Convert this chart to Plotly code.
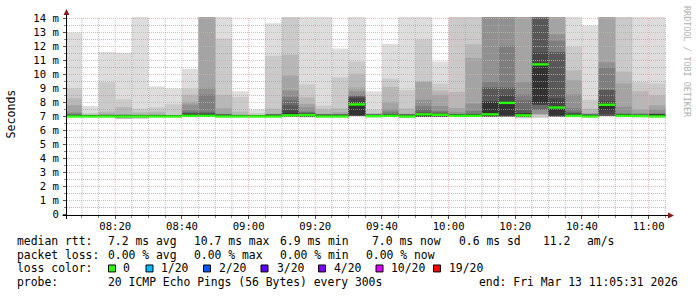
import plotly.graph_objects as go
import pandas as pd

# ---------------- data ----------------
day = "2026-03-13"
bar_start = ["08:05", "08:10", "08:15", "08:20", "08:25", "08:30", "08:35", "08:40", "08:45",
             "08:50", "08:55", "09:00", "09:05", "09:10", "09:15", "09:20", "09:25", "09:30",
             "09:35", "09:40", "09:45", "09:50", "09:55", "10:00", "10:05", "10:10", "10:15",
             "10:20", "10:25", "10:30", "10:35", "10:40", "10:45", "10:50", "10:55", "11:00"]

# sorted ping rtt (ms), upper half p11..p20 for each 5 min step
pings_high = [
    [7.08, 7.1, 7.12, 7.15, 7.2, 7.3, 7.8, 8.3, 9.0, 13.0],
    [7.08, 7.08, 7.08, 7.08, 7.08, 7.1, 7.12, 7.15, 7.25, 7.75],
    [7.1, 7.1, 7.1, 7.1, 7.1, 7.15, 7.2, 7.35, 9.45, 11.6],
    [7.1, 7.1, 7.1, 7.1, 7.1, 7.14, 7.18, 7.67, 8.23, 11.55],
    [7.1, 7.1, 7.1, 7.1, 7.1, 7.1, 7.15, 7.3, 7.55, 14.9],
    [7.1, 7.1, 7.1, 7.1, 7.1, 7.1, 7.2, 7.35, 7.65, 9.15],
    [7.1, 7.1, 7.1, 7.1, 7.1, 7.1, 7.1, 7.12, 7.87, 9.0],
    [7.15, 7.2, 7.25, 7.3, 7.45, 7.85, 8.05, 8.55, 9.0, 10.4],
    [7.15, 7.2, 7.25, 7.33, 8.57, 9.05, 14.9, 14.9, 14.9, 14.9],
    [7.12, 7.12, 7.12, 7.12, 7.12, 7.2, 7.58, 8.55, 12.55, 14.9],
    [7.1, 7.1, 7.1, 7.1, 7.1, 7.1, 7.15, 7.35, 8.4, 8.8],
    [7.1, 7.1, 7.1, 7.1, 7.1, 7.1, 7.1, 7.1, 7.25, 7.5],
    [7.12, 7.12, 7.12, 7.12, 7.12, 7.12, 7.2, 7.56, 11.33, 13.65],
    [7.25, 7.45, 7.8, 8.15, 8.4, 8.85, 9.93, 11.4, 14.9, 14.9],
    [7.15, 7.2, 7.25, 7.3, 7.35, 7.65, 7.9, 8.37, 9.3, 14.9],
    [7.12, 7.12, 7.12, 7.12, 7.12, 7.12, 7.2, 7.5, 7.78, 14.9],
    [7.12, 7.12, 7.12, 7.12, 7.12, 7.12, 7.3, 7.58, 9.8, 11.85],
    [7.92, 8.32, 8.4, 8.48, 8.5, 8.8, 9.06, 10.05, 10.92, 14.9],
    [7.12, 7.12, 7.12, 7.12, 7.12, 7.12, 7.12, 7.25, 7.48, 8.8],
    [7.15, 7.15, 7.15, 7.2, 7.35, 7.5, 8.05, 9.1, 9.7, 12.18],
    [7.12, 7.12, 7.12, 7.12, 7.12, 7.12, 7.2, 7.58, 8.9, 14.9],
    [7.2, 7.25, 7.3, 7.5, 7.75, 8.2, 9.45, 9.5, 12.48, 14.9],
    [7.18, 7.2, 7.25, 7.3, 7.4, 7.75, 8.55, 8.85, 9.35, 10.93],
    [7.15, 7.15, 7.15, 7.15, 7.15, 7.3, 7.6, 8.75, 14.9, 14.9],
    [7.15, 7.15, 7.15, 7.2, 7.4, 7.93, 11.18, 12.16, 14.9, 14.9],
    [8.06, 8.06, 9.05, 9.05, 9.47, 14.9, 14.9, 14.9, 14.9, 14.9],
    [8.06, 8.48, 9.05, 9.05, 12.05, 14.9, 14.9, 14.9, 14.9, 14.9],
    [7.2, 7.25, 7.45, 8.15, 8.57, 9.45, 14.9, 14.9, 14.9, 14.9],
    [10.8, 11.58, 13.99, 14.9, 14.9, 14.9, 14.9, 14.9, 14.9, 14.9],
    [7.75, 8.3, 11.58, 11.58, 12.4, 12.87, 14.9, 14.9, 14.9, 14.9],
    [7.15, 7.2, 7.25, 7.35, 7.6, 8.57, 9.58, 10.3, 11.98, 14.1],
    [7.12, 7.12, 7.12, 7.12, 7.12, 7.12, 7.25, 7.55, 8.2, 13.5],
    [7.94, 8.1, 8.89, 8.89, 10.48, 10.87, 14.9, 14.9, 14.9, 14.9],
    [7.15, 7.15, 7.15, 7.15, 7.25, 7.7, 9.36, 10.2, 14.9, 14.9],
    [7.12, 7.12, 7.12, 7.12, 7.12, 7.25, 7.5, 8.8, 9.45, 14.9],
    [7.15, 7.15, 7.15, 7.15, 7.25, 7.5, 7.8, 8.5, 9.36, 14.9],
]

# lower half p1..p10
_d = [6.95, 7.0, 7.0, 7.0, 7.0, 7.0, 7.0, 7.0, 7.0, 7.0]
pings_low = [
    _d, _d, _d,
    [6.8, 6.82, 6.85, 6.9, 7.0, 7.0, 7.0, 7.0, 7.0, 7.0],
    [6.82, 6.85, 6.9, 7.0, 7.0, 7.0, 7.0, 7.0, 7.0, 7.0],
    _d, _d, _d, _d, _d, _d, _d, _d, _d,
    [6.93, 6.95, 7.0, 7.0, 7.0, 7.0, 7.0, 7.0, 7.0, 7.0],
    _d, _d,
    [7.0, 7.05, 7.05, 7.05, 7.05, 7.05, 7.05, 7.05, 7.08, 7.1],
    _d, _d,
    [6.88, 6.9, 6.95, 7.0, 7.0, 7.0, 7.0, 7.0, 7.0, 7.0],
    _d, _d, _d, _d,
    [7.0, 7.0, 7.0, 7.0, 7.0, 7.0, 7.0, 7.0, 7.0, 7.05],
    [7.0, 7.0, 7.0, 7.0, 7.0, 7.0, 7.0, 7.0, 7.05, 7.1],
    [6.86, 6.9, 6.95, 7.0, 7.0, 7.0, 7.0, 7.0, 7.0, 7.0],
    [6.9, 6.93, 7.16, 7.16, 7.16, 7.47, 7.47, 7.82, 7.82, 7.94],
    [7.0, 7.0, 7.0, 7.0, 7.0, 7.0, 7.0, 7.0, 7.05, 7.1],
    _d, _d,
    [7.0, 7.05, 7.05, 7.05, 7.05, 7.05, 7.05, 7.05, 7.16, 7.45],
    _d, _d, _d,
]

median_rtt = [7.0, 7.0, 7.0, 7.0, 7.0, 7.0, 7.0, 7.05, 7.05, 7.0, 7.0, 7.0,
              7.0, 7.08, 7.1, 7.0, 7.0, 7.86, 7.02, 7.05, 7.0, 7.15, 7.12, 7.05,
              7.05, 7.15, 7.97, 7.08, 10.72, 7.64, 7.05, 7.0, 7.84, 7.05, 7.03, 7.0]

y_ticks = list(range(0, 15))
y_ticktext = ["0"] + [f"{v} m" for v in range(1, 15)]

legend_rows = [
    [("median rtt:", 16), ("7.2 ms avg", 106.5), ("10.7 ms max", 193), ("6.9 ms min", 278.5),
     ("7.0 ms now", 371.5), ("0.6 ms sd", 457.5), ("11.2", 542), ("am/s", 585.5)],
    [("packet loss:", 16), ("0.00 % avg", 106.5), ("0.00 % max", 193), ("0.00 % min", 278.5),
     ("0.00 % now", 364.5)],
    [("loss color:", 16)],
    [("probe:", 16), ("20 ICMP Echo Pings (56 Bytes) every 300s", 106.5),
     ("end: Fri Mar 13 11:05:31 2026", 477.5)],
]
loss_labels = ["0", "1/20", "2/20", "3/20", "4/20", "10/20", "19/20"]
loss_colors = ["#26ff00", "#00b8ff", "#0059ff", "#5e00ff", "#7e00ff", "#dd00ff", "#ff0000"]

# ---------------- geometry (pixels) ----------------
W, H = 697, 297
L, R, T, B = 67, 30, 15, 82
PW, PH = W - L - R, H - T - B
YMAX = 14.14
YOFF = 0.5 * YMAX / PH  # half-pixel shift so dotted grid rows are crisp
MONO = "DejaVu Sans Mono"
LFS = 11.4  # legend font size


def px(x):
    return (x - L) / PW


def py(y):
    return (H - B - y) / PH


starts = pd.to_datetime([f"{day} {s}" for s in bar_start])
centers = starts + pd.Timedelta(seconds=150)
step_ms = 300000

fig = go.Figure()

half = 10
for k in range(1, half + 1):
    g = int(190 / half * (half - k)) + 50
    col = "#" + f"{g:02x}" * 3
    lo = [row[k - 1] for row in pings_low]
    hi = [row[10 - k] for row in pings_high]
    fig.add_trace(go.Bar(
        x=centers, base=lo, y=[h - l for h, l in zip(hi, lo)], width=step_ms,
        marker=dict(color=col, line=dict(width=0)), showlegend=False, hoverinfo="skip"))

sw = YMAX / PH * 1.2
fig.add_trace(go.Bar(
    x=centers, base=[m - sw for m in median_rtt], y=[2 * sw] * len(median_rtt), width=step_ms,
    marker=dict(color=loss_colors[0], line=dict(width=0)), showlegend=False, hoverinfo="skip"))

MAJ = "rgba(232,165,165,0.8)"
MIN = "rgba(165,165,165,0.75)"
shapes = []
# grid on top of the data
for j in range(1, 29):
    v = j * 0.5
    major = (j % 2 == 0)
    shapes.append(dict(type="line", xref="paper", yref="y", x0=0, x1=1, y0=v, y1=v,
                       line=dict(color=MAJ if major else MIN, width=1, dash="1px,1px"),
                       layer="above"))
grid_times = pd.date_range(f"{day} 08:10", f"{day} 11:05", freq="5min")
for t in grid_times:
    major = (t.minute % 20 == 0)
    shapes.append(dict(type="line", xref="x", yref="paper", x0=t, x1=t, y0=0, y1=1,
                       line=dict(color=MAJ if major else MIN, width=1, dash="1px,1px"),
                       layer="above"))

# axes and arrows
shapes.append(dict(type="line", xref="paper", yref="paper", x0=px(62.5), x1=px(669),
                   y0=py(215.5), y1=py(215.5), line=dict(color="black", width=1), layer="above"))
shapes.append(dict(type="line", xref="paper", yref="paper", x0=px(66.5), x1=px(66.5),
                   y0=py(219), y1=py(12), line=dict(color="black", width=1), layer="above"))
arrow_col = "#8b1a1a"
shapes.append(dict(type="path", xref="paper", yref="paper",
                   path=f"M {px(66.5)} {py(7)} L {px(69.5)} {py(13)} L {px(63.5)} {py(13)} Z",
                   fillcolor=arrow_col, line=dict(width=0), layer="above"))
shapes.append(dict(type="path", xref="paper", yref="paper",
                   path=f"M {px(674)} {py(215.5)} L {px(668)} {py(212.5)} L {px(668)} {py(218.5)} Z",
                   fillcolor=arrow_col, line=dict(width=0), layer="above"))

annotations = []
row_y = [241, 255, 269, 283]
for r, row in enumerate(legend_rows):
    for text, x0 in row:
        annotations.append(dict(xref="paper", yref="paper", x=px(x0), y=py(row_y[r]),
                                text=text, showarrow=False, xanchor="left", yanchor="middle",
                                font=dict(family=MONO, size=LFS, color="black"), borderpad=0))

box_x = [108.5, 146, 203.5, 261, 318.5, 376, 433.5]
lab_x = [122, 160, 217.5, 275.5, 332.5, 390, 447.5]
for bx, lx, lab, col in zip(box_x, lab_x, loss_labels, loss_colors):
    shapes.append(dict(type="rect", xref="paper", yref="paper", x0=px(bx), x1=px(bx + 7),
                       y0=py(265.5), y1=py(272.5), fillcolor=col, line=dict(color="black", width=1)))
    annotations.append(dict(xref="paper", yref="paper", x=px(lx), y=py(269), text=lab,
                            showarrow=False, xanchor="left", yanchor="middle",
                            font=dict(family=MONO, size=LFS, color="black"), borderpad=0))

annotations.append(dict(xref="paper", yref="paper", x=px(11.5), y=py(113), text="Seconds",
                        textangle=-90, showarrow=False, xanchor="center", yanchor="middle",
                        font=dict(family=MONO, size=11.6, color="black")))
annotations.append(dict(xref="paper", yref="paper", x=px(687.5), y=py(60),
                        text="RRDTOOL / TOBI OETIKER", textangle=90, showarrow=False,
                        xanchor="center", yanchor="middle",
                        font=dict(family=MONO, size=8.4, color="#b0b0b0")))

fig.update_layout(
    width=W, height=H, margin=dict(l=L, r=R, t=T, b=B, pad=0),
    paper_bgcolor="white", plot_bgcolor="white", barmode="overlay",
    showlegend=False, shapes=shapes, annotations=annotations,
    xaxis=dict(type="date", range=[f"{day} 08:05:31", f"{day} 11:05:31"],
               tick0=f"{day} 08:00", dtick=1200000, tickformat="%H:%M",
               showgrid=False, zeroline=False, showline=False,
               ticks="outside", ticklen=3, tickcolor="#555", tickwidth=1,
               minor=dict(dtick=300000, ticks="outside", ticklen=2, tickcolor="#888", showgrid=False),
               tickfont=dict(family=MONO, size=10.6, color="black"), ticklabelstandoff=-2),
    yaxis=dict(range=[-YOFF, YMAX - YOFF], tickvals=y_ticks, ticktext=y_ticktext,
               showgrid=False, zeroline=False, showline=False,
               ticks="outside", ticklen=3, tickcolor="#555", tickwidth=1,
               minor=dict(dtick=0.5, ticks="outside", ticklen=2, tickcolor="#888", showgrid=False),
               tickfont=dict(family=MONO, size=10.6, color="black"), ticklabelstandoff=2),
)

fig.write_html("out.html", config={"displayModeBar": False})
